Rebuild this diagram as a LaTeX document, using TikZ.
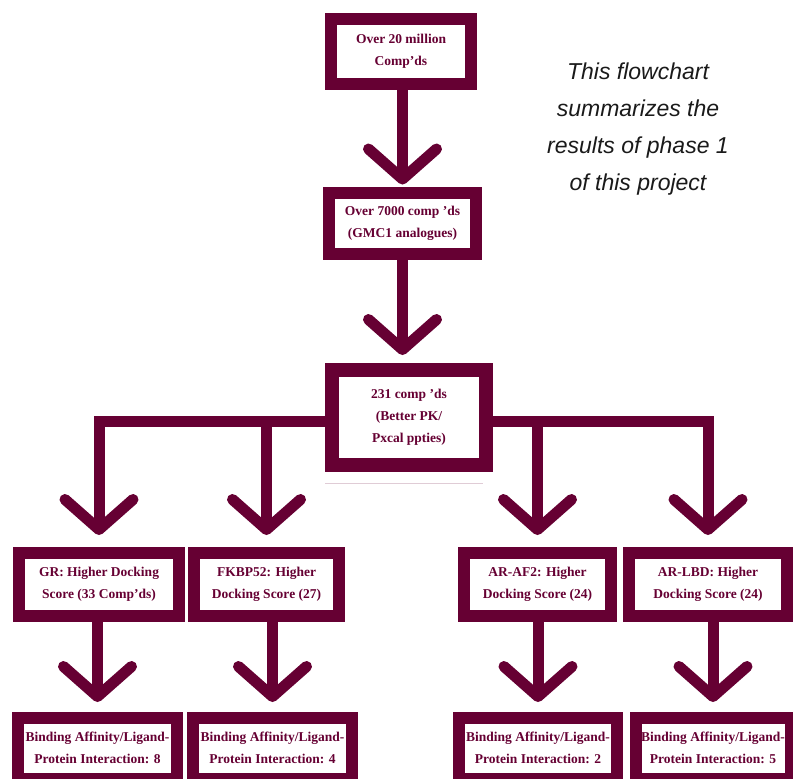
\documentclass[tikz,border=0pt]{standalone}
\usepackage{fontspec}
\setmainfont{Liberation Serif}
\newfontfamily\notefont{Liberation Sans}
\usepackage{tikz}
\definecolor{wine}{HTML}{660033}
\definecolor{ink}{HTML}{1A1A1A}
\tikzset{
  box/.style={draw=wine, line width=12pt, fill=white, text=wine, inner sep=0pt,
    align=center, font=\fontsize{13.5}{22}\selectfont\bfseries},
  flow/.style={draw=wine, line width=11pt},
  chev/.style={draw=wine, line width=11pt, line cap=round, line join=round},
  faint/.style={draw=wine!20, line width=0.8pt},
  note/.style={text=ink, align=center, font=\fontsize{23}{37}\selectfont\notefont\itshape}
}
\begin{document}
\begin{tikzpicture}[x=1pt, y=-1pt]
  \useasboundingbox (0,0) rectangle (793,779);
  \clip (0,0) rectangle (793,779);

  % top of the funnel
  \node[box, minimum width=140pt, minimum height=65pt] (top) at (401,51.5) {Over 20 million\\Comp’ds};
  \node[box, minimum width=147pt, minimum height=61pt] (mid) at (402.5,223) {Over 7000 comp ’ds\\(GMC1 analogues)};
  \node[box, line width=14pt, minimum width=154pt, minimum height=95pt] (filt) at (409,417.5) {231 comp ’ds\\(Better PK/\\Pxcal ppties)};
  \draw[faint] ([shift={(0,11)}]filt.south west) -- ([shift={(-10,11)}]filt.south east);

  % targets
  \node[box, minimum width=160pt, minimum height=63pt] (gr)  at (99,584.5)  {GR: Higher Docking\\Score (33 Comp’ds)};
  \node[box, minimum width=145pt, minimum height=63pt] (fk)  at (266.5,584.5) {FKBP52: Higher\\Docking Score (27)};
  \node[box, minimum width=147pt, minimum height=63pt] (af)  at (537.5,584.5) {AR-AF2: Higher\\Docking Score (24)};
  \node[box, minimum width=158pt, minimum height=63pt] (lbd) at (708,584.5) {AR-LBD: Higher\\Docking Score (24)};

  % binding results
  \node[box, minimum width=159pt, minimum height=61pt] (grB)  at (97.5,748)  {Binding Affinity/Ligand-\\Protein Interaction: 8};
  \node[box, minimum width=159pt, minimum height=61pt] (fkB)  at (272.5,748) {Binding Affinity/Ligand-\\Protein Interaction: 4};
  \node[box, minimum width=158pt, minimum height=61pt] (afB)  at (538,748)   {Binding Affinity/Ligand-\\Protein Interaction: 2};
  \node[box, minimum width=155pt, minimum height=61pt] (lbdB) at (713,748)   {Binding Affinity/Ligand-\\Protein Interaction: 5};

  \node[note] (memo) at (638,129) {This flowchart\\summarizes the\\results of phase 1\\of this project};

  % arrow heads
  \coordinate (filt-top) at ([yshift=13.5pt]filt.north);
  \coordinate (filt-tip) at (filt-top -| mid.south);
  \foreach \dst/\up in {mid/7.5, gr/17.5, fk/17.5, af/17.5, lbd/17.5, grB/15, fkB/15, afB/15, lbdB/15}
    \coordinate (\dst-tip) at ([yshift=\up pt]\dst.north);
  \foreach \dst in {mid, filt, gr, fk, af, lbd, grB, fkB, afB, lbdB}
    \draw[chev] ([shift={(-34,-30)}]\dst-tip) -- (\dst-tip) -- ([shift={(34,-30)}]\dst-tip);

  % stems
  \coordinate (bus-l) at ([yshift=-4pt]filt.west);
  \coordinate (bus-r) at ([yshift=-4pt]filt.east);
  \draw[flow] (mid-tip |- top.south) -- (mid-tip);
  \draw[flow] (mid.south) -- (filt-tip);
  \draw[flow] (bus-l) -| (gr-tip);
  \draw[flow] (bus-l) -| (fk-tip);
  \draw[flow] (bus-r) -| (af-tip);
  \draw[flow] (bus-r) -| (lbd-tip);
  \foreach \src/\dst in {gr/grB, fk/fkB, af/afB, lbd/lbdB}
    \draw[flow] (\dst-tip |- \src.south) -- (\dst-tip);
\end{tikzpicture}
\end{document}
